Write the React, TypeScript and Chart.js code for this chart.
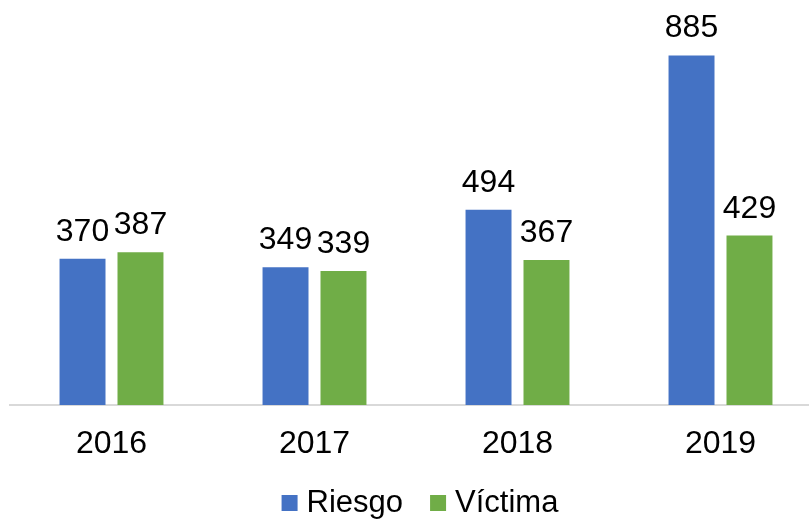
import React, { useEffect, useRef } from "react";
import { Chart, registerables } from "chart.js";

Chart.register(...registerables);

const categories = ["2016", "2017", "2018", "2019"];
const riesgo = [370, 349, 494, 885];
const victima = [387, 339, 367, 429];
const seriesNames = ["Riesgo", "Víctima"];
const colors = ["#4472C4", "#70AD47"];

const FONT = "'Liberation Sans', Arial, sans-serif";

const valueLabels = {
  id: "valueLabels",
  afterDatasetsDraw(chart: any) {
    const ctx = chart.ctx;
    ctx.save();
    ctx.font = `32px ${FONT}`;
    ctx.fillStyle = "#000";
    ctx.textAlign = "center";
    ctx.textBaseline = "alphabetic";
    chart.data.datasets.forEach((ds: any, i: number) => {
      const meta = chart.getDatasetMeta(i);
      meta.data.forEach((bar: any, j: number) => {
        ctx.fillText(String(ds.data[j]), bar.x, bar.y - 18);
      });
    });
    ctx.restore();
  },
};

const customLegend = {
  id: "customLegend",
  afterDraw(chart: any) {
    const ctx = chart.ctx;
    const area = chart.chartArea;
    ctx.save();
    ctx.font = `31px ${FONT}`;
    const box = 16;
    const gapText = 9;
    const gapItem = 27;
    const widths = seriesNames.map((n) => ctx.measureText(n).width);
    const total = widths.reduce((a, w) => a + box + gapText + w, 0) + gapItem * (seriesNames.length - 1);
    const center = (area.left + area.right) / 2 + 4;
    let x = center - total / 2;
    const baseline = 512;
    ctx.textBaseline = "alphabetic";
    ctx.textAlign = "left";
    seriesNames.forEach((n, i) => {
      ctx.fillStyle = colors[i];
      ctx.fillRect(x, baseline - box - 1, box, box);
      x += box + gapText;
      ctx.fillStyle = "#000";
      ctx.fillText(n, x, baseline);
      x += widths[i] + gapItem;
    });
    ctx.restore();
  },
};

export default function App() {
  const ref = useRef<HTMLCanvasElement>(null);
  useEffect(() => {
    if (!ref.current) return;
    const chart = new Chart(ref.current, {
      type: "bar",
      data: {
        labels: categories,
        datasets: [
          { label: seriesNames[0], data: riesgo, backgroundColor: colors[0] },
          { label: seriesNames[1], data: victima, backgroundColor: colors[1] },
        ],
      },
      options: {
        animation: false,
        responsive: true,
        maintainAspectRatio: false,
        layout: { padding: { left: 10, right: 8, top: 10, bottom: 0 } },
        datasets: {
          bar: { categoryPercentage: 0.571, barPercentage: 0.793 },
        },
        plugins: {
          legend: { display: false },
          tooltip: { enabled: false },
        },
        scales: {
          y: { display: false, min: 0, max: 1000 },
          x: {
            grid: { display: false, drawTicks: false },
            border: { color: "#D9D9D9", width: 2 },
            ticks: {
              color: "#000",
              font: { family: FONT, size: 32 },
              padding: 20,
              maxRotation: 0,
            },
            afterFit(scale: any) {
              scale.height = 114;
            },
          },
        },
      },
      plugins: [valueLabels, customLegend],
    });
    return () => chart.destroy();
  }, []);
  return (
    <div
      style={{
        position: "fixed",
        left: 0,
        top: 0,
        width: 809,
        height: 519,
        overflow: "hidden",
        background: "#fff",
      }}
    >
      <div style={{ position: "relative", width: 830, height: 519 }}>
        <canvas ref={ref} />
      </div>
    </div>
  );
}
